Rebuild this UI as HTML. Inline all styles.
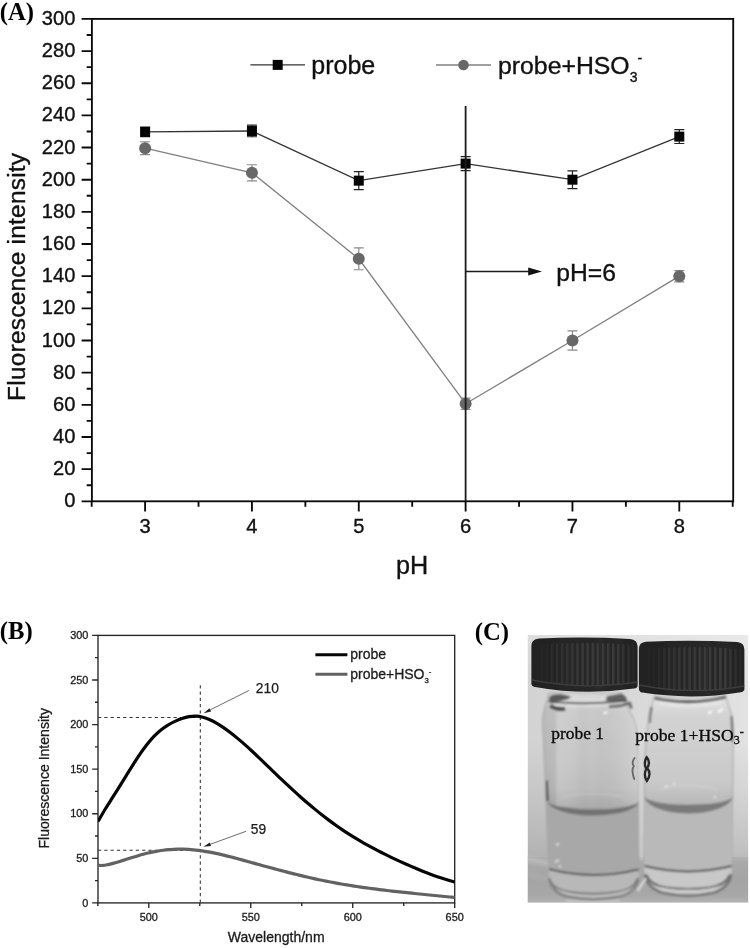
<!DOCTYPE html>
<html lang="en"><head><meta charset="utf-8"><title>Figure</title>
<style>html,body{margin:0;padding:0;background:#fff}svg{display:block}text.s{font-family:"Liberation Sans",sans-serif}text.b{font-family:"Liberation Serif",serif;font-weight:bold}text.r{font-family:"Liberation Serif",serif}</style></head><body>
<svg width="750" height="948" viewBox="0 0 750 948">
<rect width="750" height="948" fill="#fff"/>
<g id="panelA">
<text class="b" x="-0.2" y="20" font-size="24.7">(A)</text>
<rect x="91.9" y="18.9" width="641.3" height="482.4" fill="none" stroke="#0a0a0a" stroke-width="1.85"/>
<path d="M81.6 501.3H91.9M86.7 485.22H91.9M81.6 469.14H91.9M86.7 453.06H91.9M81.6 436.98H91.9M86.7 420.9H91.9M81.6 404.82H91.9M86.7 388.74H91.9M81.6 372.66H91.9M86.7 356.58H91.9M81.6 340.5H91.9M86.7 324.42H91.9M81.6 308.34H91.9M86.7 292.26H91.9M81.6 276.18H91.9M86.7 260.1H91.9M81.6 244.02H91.9M86.7 227.94H91.9M81.6 211.86H91.9M86.7 195.78H91.9M81.6 179.7H91.9M86.7 163.62H91.9M81.6 147.54H91.9M86.7 131.46H91.9M81.6 115.38H91.9M86.7 99.3H91.9M81.6 83.22H91.9M86.7 67.14H91.9M81.6 51.06H91.9M86.7 34.98H91.9M81.6 18.9H91.9M91.68 501.3V506.7M145.1 501.3V511.6M198.52 501.3V506.7M251.94 501.3V511.6M305.36 501.3V506.7M358.78 501.3V511.6M412.2 501.3V506.7M465.62 501.3V511.6M519.04 501.3V506.7M572.46 501.3V511.6M625.88 501.3V506.7M679.3 501.3V511.6M732.72 501.3V506.7" stroke="#0a0a0a" stroke-width="1.85" fill="none"/>
<g fill="#111" stroke="#111" stroke-width="0.35">
<text class="s" x="75.4" y="507.3" font-size="20.1" text-anchor="end">0</text>
<text class="s" x="75.4" y="475.14" font-size="20.1" text-anchor="end">20</text>
<text class="s" x="75.4" y="442.98" font-size="20.1" text-anchor="end">40</text>
<text class="s" x="75.4" y="410.82" font-size="20.1" text-anchor="end">60</text>
<text class="s" x="75.4" y="378.66" font-size="20.1" text-anchor="end">80</text>
<text class="s" x="75.4" y="346.5" font-size="20.1" text-anchor="end">100</text>
<text class="s" x="75.4" y="314.34" font-size="20.1" text-anchor="end">120</text>
<text class="s" x="75.4" y="282.18" font-size="20.1" text-anchor="end">140</text>
<text class="s" x="75.4" y="250.02" font-size="20.1" text-anchor="end">160</text>
<text class="s" x="75.4" y="217.86" font-size="20.1" text-anchor="end">180</text>
<text class="s" x="75.4" y="185.7" font-size="20.1" text-anchor="end">200</text>
<text class="s" x="75.4" y="153.54" font-size="20.1" text-anchor="end">220</text>
<text class="s" x="75.4" y="121.38" font-size="20.1" text-anchor="end">240</text>
<text class="s" x="75.4" y="89.22" font-size="20.1" text-anchor="end">260</text>
<text class="s" x="75.4" y="57.06" font-size="20.1" text-anchor="end">280</text>
<text class="s" x="75.4" y="24.9" font-size="20.1" text-anchor="end">300</text>
<text class="s" x="145.1" y="532.8" font-size="20.1" text-anchor="middle">3</text>
<text class="s" x="251.94" y="532.8" font-size="20.1" text-anchor="middle">4</text>
<text class="s" x="358.78" y="532.8" font-size="20.1" text-anchor="middle">5</text>
<text class="s" x="465.62" y="532.8" font-size="20.1" text-anchor="middle">6</text>
<text class="s" x="572.46" y="532.8" font-size="20.1" text-anchor="middle">7</text>
<text class="s" x="679.3" y="532.8" font-size="20.1" text-anchor="middle">8</text>
<text class="s" x="412" y="574" font-size="25.2" text-anchor="middle">pH</text>
<text class="s" transform="translate(25.3 276.8) rotate(-90)" font-size="24.4" text-anchor="middle" letter-spacing="0.25">Fluorescence intensity</text>
</g>
<polyline points="145.1,148.18 251.94,172.79 358.78,258.81 465.62,403.69 572.46,340.5 679.3,276.18" fill="none" stroke="#808080" stroke-width="1.3"/>
<path d="M145.1 141.75V154.62M140.1 141.75h10M140.1 154.62h10M251.94 164.75V180.83M246.94 164.75h10M246.94 180.83h10M358.78 247.88V269.75M353.78 247.88h10M353.78 269.75h10M465.62 398.07V409.32M460.62 398.07h10M460.62 409.32h10M572.46 330.85V350.15M567.46 330.85h10M567.46 350.15h10M679.3 270.55V281.81M674.3 270.55h10M674.3 281.81h10" stroke="#8a8a8a" stroke-width="1.2" fill="none"/>
<circle cx="145.1" cy="148.18" r="6" fill="#686868"/>
<circle cx="251.94" cy="172.79" r="6" fill="#686868"/>
<circle cx="358.78" cy="258.81" r="6" fill="#686868"/>
<circle cx="465.62" cy="403.69" r="6" fill="#686868"/>
<circle cx="572.46" cy="340.5" r="6" fill="#686868"/>
<circle cx="679.3" cy="276.18" r="6" fill="#686868"/>
<polyline points="145.1,131.94 251.94,130.98 358.78,180.66 465.62,163.62 572.46,179.7 679.3,136.61" fill="none" stroke="#333" stroke-width="1.3"/>
<path d="M145.1 127.12V136.77M140.1 127.12h10M140.1 136.77h10M251.94 125.19V136.77M246.94 125.19h10M246.94 136.77h10M358.78 171.66V189.67M353.78 171.66h10M353.78 189.67h10M465.62 156.54V170.7M460.62 156.54h10M460.62 170.7h10M572.46 170.86V188.54M567.46 170.86h10M567.46 188.54h10M679.3 129.69V143.52M674.3 129.69h10M674.3 143.52h10" stroke="#222" stroke-width="1.2" fill="none"/>
<rect x="140.1" y="126.94" width="10" height="10" fill="#050505"/>
<rect x="246.94" y="125.98" width="10" height="10" fill="#050505"/>
<rect x="353.78" y="175.66" width="10" height="10" fill="#050505"/>
<rect x="460.62" y="158.62" width="10" height="10" fill="#050505"/>
<rect x="567.46" y="174.7" width="10" height="10" fill="#050505"/>
<rect x="674.3" y="131.61" width="10" height="10" fill="#050505"/>
<path d="M465.62 106V501.3" stroke="#1c1c1c" stroke-width="1.8" fill="none"/>
<path d="M465.62 271.5H531" stroke="#1a1a1a" stroke-width="1.3" fill="none"/>
<path d="M542 271.5L528.2 267.6L528.2 275.4Z" fill="#111"/>
<text class="s" x="556.3" y="281.2" font-size="24.7" fill="#111" stroke="#111" stroke-width="0.35">pH=6</text>
<path d="M250.4 64.8H305" stroke="#333" stroke-width="1.3"/>
<rect x="272.7" y="59.9" width="10" height="10" fill="#050505"/>
<text class="s" x="311.3" y="73.6" font-size="25" fill="#111" stroke="#111" stroke-width="0.35">probe</text>
<path d="M436 65H491" stroke="#808080" stroke-width="1.3"/>
<circle cx="463.5" cy="65" r="5.3" fill="#686868"/>
<text class="s" x="498" y="73.6" font-size="24.8" fill="#111" stroke="#111" stroke-width="0.35">probe+HSO<tspan font-size="14" dy="8.4">3</tspan><tspan font-size="14" dy="-19">-</tspan></text>
</g>
<g id="panelB">
<text class="b" x="-0.2" y="639.4" font-size="24.7">(B)</text>
<rect x="98" y="635.4" width="356.7" height="267.5" fill="none" stroke="#262626" stroke-width="1.35"/>
<path d="M92.2 902.9H98M95 880.61H98M92.2 858.32H98M95 836.02H98M92.2 813.73H98M95 791.44H98M92.2 769.15H98M95 746.86H98M92.2 724.57H98M95 702.27H98M92.2 679.98H98M95 657.69H98M92.2 635.4H98M97.82 902.9V905.9M148.8 902.9V908.1M199.78 902.9V905.9M250.76 902.9V908.1M301.75 902.9V905.9M352.73 902.9V908.1M403.71 902.9V905.9M454.69 902.9V908.1" stroke="#262626" stroke-width="1.35" fill="none"/>
<g fill="#1c1c1c" stroke="#1c1c1c" stroke-width="0.3">
<text class="s" x="88.3" y="906.6" font-size="10.9" text-anchor="end">0</text>
<text class="s" x="88.3" y="862.02" font-size="10.9" text-anchor="end">50</text>
<text class="s" x="88.3" y="817.43" font-size="10.9" text-anchor="end">100</text>
<text class="s" x="88.3" y="772.85" font-size="10.9" text-anchor="end">150</text>
<text class="s" x="88.3" y="728.27" font-size="10.9" text-anchor="end">200</text>
<text class="s" x="88.3" y="683.68" font-size="10.9" text-anchor="end">250</text>
<text class="s" x="88.3" y="639.1" font-size="10.9" text-anchor="end">300</text>
<text class="s" x="148.8" y="921.4" font-size="10.9" text-anchor="middle">500</text>
<text class="s" x="250.76" y="921.4" font-size="10.9" text-anchor="middle">550</text>
<text class="s" x="352.73" y="921.4" font-size="10.9" text-anchor="middle">600</text>
<text class="s" x="454.69" y="921.4" font-size="10.9" text-anchor="middle">650</text>
<text class="s" x="276.2" y="941.9" font-size="14" text-anchor="middle">Wavelength/nm</text>
<text class="s" transform="translate(48.9 778.3) rotate(-90)" font-size="14.05" text-anchor="middle">Fluorescence Intensity</text>
</g>
<path d="M98 717.5H196M98 850.3H200M200.3 685.2V902.9" stroke="#333" stroke-width="1.05" stroke-dasharray="3.2 3.1" fill="none"/>
<clipPath id="clipB"><rect x="98" y="635.4" width="357.3" height="267.5"/></clipPath>
<g clip-path="url(#clipB)" fill="none" stroke-linejoin="round">
<path d="M98 865.28C98.84 865.31 101.35 865.57 103.02 865.46C104.7 865.35 106.37 864.94 108.05 864.59C109.72 864.25 111.4 863.81 113.07 863.37C114.75 862.92 116.42 862.43 118.1 861.93C119.77 861.42 121.45 860.89 123.12 860.36C124.79 859.83 126.47 859.28 128.14 858.75C129.82 858.22 131.49 857.69 133.17 857.17C134.84 856.66 136.52 856.16 138.19 855.69C139.87 855.21 141.54 854.74 143.22 854.3C144.89 853.86 146.56 853.44 148.24 853.04C149.91 852.65 151.59 852.27 153.26 851.93C154.94 851.59 156.61 851.27 158.29 850.98C159.96 850.7 161.64 850.44 163.31 850.22C164.99 850 166.66 849.82 168.34 849.67C170.01 849.52 171.68 849.4 173.36 849.32C175.03 849.24 176.71 849.19 178.38 849.17C180.06 849.15 181.73 849.16 183.41 849.21C185.08 849.25 186.76 849.32 188.43 849.42C190.11 849.52 191.78 849.65 193.45 849.81C195.13 849.96 196.8 850.15 198.48 850.36C200.15 850.56 201.83 850.8 203.5 851.05C205.18 851.31 206.85 851.59 208.53 851.89C210.2 852.19 211.88 852.51 213.55 852.85C215.23 853.19 216.9 853.55 218.57 853.92C220.25 854.3 221.92 854.69 223.6 855.09C225.27 855.49 226.95 855.9 228.62 856.33C230.3 856.75 231.97 857.19 233.65 857.63C235.32 858.07 237 858.52 238.67 858.98C240.35 859.43 242.02 859.9 243.69 860.36C245.37 860.82 247.04 861.29 248.72 861.76C250.39 862.22 252.07 862.69 253.74 863.15C255.42 863.62 257.09 864.08 258.77 864.55C260.44 865.01 262.12 865.47 263.79 865.93C265.46 866.39 267.14 866.85 268.81 867.3C270.49 867.76 272.16 868.21 273.84 868.66C275.51 869.11 277.19 869.56 278.86 870C280.54 870.44 282.21 870.88 283.89 871.32C285.56 871.75 287.24 872.19 288.91 872.61C290.58 873.04 292.26 873.46 293.93 873.88C295.61 874.3 297.28 874.71 298.96 875.12C300.63 875.52 302.31 875.93 303.98 876.32C305.66 876.72 307.33 877.11 309.01 877.49C310.68 877.87 312.35 878.25 314.03 878.62C315.7 878.99 317.38 879.35 319.05 879.71C320.73 880.06 322.4 880.41 324.08 880.75C325.75 881.09 327.43 881.42 329.1 881.74C330.78 882.06 332.45 882.38 334.13 882.69C335.8 883 337.47 883.3 339.15 883.59C340.82 883.89 342.5 884.18 344.17 884.46C345.85 884.74 347.52 885.01 349.2 885.28C350.87 885.55 352.55 885.81 354.22 886.07C355.9 886.33 357.57 886.58 359.25 886.83C360.92 887.07 362.59 887.31 364.27 887.55C365.94 887.78 367.62 888.01 369.29 888.24C370.97 888.46 372.64 888.69 374.32 888.9C375.99 889.12 377.67 889.33 379.34 889.54C381.02 889.75 382.69 889.95 384.36 890.15C386.04 890.36 387.71 890.55 389.39 890.75C391.06 890.94 392.74 891.13 394.41 891.32C396.09 891.51 397.76 891.69 399.44 891.88C401.11 892.06 402.79 892.24 404.46 892.42C406.14 892.6 407.81 892.77 409.48 892.95C411.16 893.12 412.83 893.3 414.51 893.47C416.18 893.64 417.86 893.81 419.53 893.98C421.21 894.15 422.88 894.32 424.56 894.48C426.23 894.65 427.91 894.82 429.58 894.98C431.25 895.15 432.93 895.32 434.6 895.48C436.28 895.65 437.95 895.82 439.63 895.98C441.3 896.15 442.98 896.32 444.65 896.49C446.33 896.65 448 896.82 449.68 896.99C451.35 897.16 453.86 897.42 454.7 897.51" stroke="#626262" stroke-width="3.2"/>
<path d="M98 821.47C99.17 819.47 102.66 813.33 104.99 809.49C107.33 805.66 109.66 802.13 111.99 798.46C114.32 794.79 116.65 791.2 118.98 787.47C121.31 783.74 123.65 779.86 125.98 776.09C128.31 772.32 130.64 768.47 132.97 764.83C135.3 761.18 137.63 757.57 139.96 754.2C142.3 750.83 144.63 747.56 146.96 744.6C149.29 741.63 151.62 738.85 153.95 736.41C156.28 733.97 158.62 731.84 160.95 729.96C163.28 728.07 165.61 726.52 167.94 725.09C170.27 723.67 172.6 722.51 174.94 721.42C177.27 720.33 179.6 719.36 181.93 718.56C184.26 717.76 186.59 717.02 188.92 716.61C191.25 716.2 193.59 715.99 195.92 716.09C198.25 716.19 200.58 716.61 202.91 717.22C205.24 717.83 207.57 718.72 209.91 719.76C212.24 720.79 214.57 722.06 216.9 723.42C219.23 724.78 221.56 726.32 223.89 727.92C226.23 729.53 228.56 731.25 230.89 733.04C233.22 734.82 235.55 736.71 237.88 738.64C240.21 740.58 242.55 742.6 244.88 744.66C247.21 746.72 249.54 748.84 251.87 750.99C254.2 753.14 256.53 755.35 258.86 757.56C261.2 759.77 263.53 762.03 265.86 764.28C268.19 766.52 270.52 768.8 272.85 771.05C275.18 773.3 277.52 775.56 279.85 777.79C282.18 780.02 284.51 782.24 286.84 784.43C289.17 786.61 291.5 788.77 293.84 790.89C296.17 793.02 298.5 795.11 300.83 797.18C303.16 799.24 305.49 801.27 307.82 803.26C310.15 805.25 312.49 807.21 314.82 809.12C317.15 811.04 319.48 812.91 321.81 814.75C324.14 816.58 326.47 818.38 328.81 820.13C331.14 821.88 333.47 823.58 335.8 825.24C338.13 826.9 340.46 828.51 342.79 830.07C345.13 831.64 347.46 833.16 349.79 834.64C352.12 836.12 354.45 837.56 356.78 838.96C359.11 840.36 361.45 841.72 363.78 843.05C366.11 844.38 368.44 845.67 370.77 846.94C373.1 848.2 375.43 849.43 377.76 850.64C380.1 851.85 382.43 853.02 384.76 854.18C387.09 855.33 389.42 856.46 391.75 857.57C394.08 858.68 396.42 859.76 398.75 860.84C401.08 861.91 403.41 862.96 405.74 864C408.07 865.04 410.4 866.06 412.74 867.06C415.07 868.06 417.4 869.04 419.73 870C422.06 870.95 424.39 871.88 426.72 872.78C429.05 873.68 431.39 874.56 433.72 875.39C436.05 876.23 438.38 877.04 440.71 877.81C443.04 878.57 445.37 879.31 447.71 879.99C450.04 880.68 453.53 881.61 454.7 881.93" stroke="#050505" stroke-width="3.2"/>
</g>
<path d="M248.9 690.5L210.31 709.84" stroke="#5a5a5a" stroke-width="0.9" fill="none"/>
<path d="M203.6 713.2L209.45 708.14L211.16 711.54Z" fill="#222"/>
<path d="M246 831.3L210.45 844.24" stroke="#5a5a5a" stroke-width="0.9" fill="none"/>
<path d="M203.4 846.8L209.8 842.45L211.1 846.02Z" fill="#222"/>
<text class="s" x="255.8" y="693.4" font-size="13.8" fill="#1c1c1c" stroke="#1c1c1c" stroke-width="0.25">210</text>
<text class="s" x="250.8" y="834.2" font-size="13.8" fill="#1c1c1c" stroke="#1c1c1c" stroke-width="0.25">59</text>
<path d="M315.4 654.7H347.4" stroke="#050505" stroke-width="3"/>
<path d="M315.4 674.2H347.4" stroke="#626262" stroke-width="3"/>
<text class="s" x="350.2" y="659" font-size="14" fill="#1c1c1c" stroke="#1c1c1c" stroke-width="0.3">probe</text>
<text class="s" x="350.2" y="678.6" font-size="14" fill="#1c1c1c" stroke="#1c1c1c" stroke-width="0.3">probe+HSO<tspan font-size="7.8" dy="4.8">3</tspan><tspan font-size="7.8" dy="-9.5">-</tspan></text>
</g>
<g id="panelC">
<text class="b" x="474.8" y="639.5" font-size="24.7">(C)</text>
<defs>
<clipPath id="pc"><rect x="527.8" y="635.1" width="220.3" height="267.3"/></clipPath>
<filter id="b05" x="-20%" y="-20%" width="140%" height="140%"><feGaussianBlur stdDeviation="0.5"/></filter>
<filter id="b1" x="-20%" y="-20%" width="140%" height="140%"><feGaussianBlur stdDeviation="0.9"/></filter>
<filter id="b2" x="-30%" y="-30%" width="160%" height="160%"><feGaussianBlur stdDeviation="2"/></filter>
<filter id="b4" x="-50%" y="-50%" width="200%" height="200%"><feGaussianBlur stdDeviation="4"/></filter>
<linearGradient id="gWall" x1="0" y1="0" x2="1" y2="0">
 <stop offset="0" stop-color="#d3d3d3"/><stop offset="0.5" stop-color="#d9d9d9"/><stop offset="1" stop-color="#e2e2e2"/>
</linearGradient>
<linearGradient id="gWallV" gradientUnits="userSpaceOnUse" x1="0" y1="635" x2="0" y2="858">
 <stop offset="0" stop-color="#fff" stop-opacity="0.25"/><stop offset="0.2" stop-color="#fff" stop-opacity="0"/><stop offset="0.47" stop-color="#000" stop-opacity="0"/><stop offset="0.74" stop-color="#000" stop-opacity="0.07"/><stop offset="1" stop-color="#000" stop-opacity="0.16"/>
</linearGradient>
<linearGradient id="gTable" gradientUnits="userSpaceOnUse" x1="0" y1="857" x2="0" y2="903">
 <stop offset="0" stop-color="#aaaaaa"/><stop offset="0.5" stop-color="#a4a4a4"/><stop offset="0.85" stop-color="#a8a8a8"/><stop offset="1" stop-color="#b4b4b4"/>
</linearGradient>
<linearGradient id="gAir1" gradientUnits="userSpaceOnUse" x1="0" y1="694" x2="0" y2="808">
 <stop offset="0" stop-color="#dadada"/><stop offset="0.16" stop-color="#c9c9c9"/><stop offset="0.58" stop-color="#c4c4c4"/><stop offset="0.82" stop-color="#bdbdbd"/><stop offset="1" stop-color="#aaaaaa"/>
</linearGradient>
<linearGradient id="gAir2" gradientUnits="userSpaceOnUse" x1="0" y1="698" x2="0" y2="804">
 <stop offset="0" stop-color="#e2e2e2"/><stop offset="0.16" stop-color="#d3d3d3"/><stop offset="0.58" stop-color="#cdcdcd"/><stop offset="0.8" stop-color="#c9c9c9"/><stop offset="1" stop-color="#b8b8b8"/>
</linearGradient>
<linearGradient id="gSide1" gradientUnits="userSpaceOnUse" x1="541" y1="0" x2="640" y2="0">
 <stop offset="0" stop-color="#000" stop-opacity="0.02"/><stop offset="0.04" stop-color="#000" stop-opacity="0.07"/><stop offset="0.12" stop-color="#000" stop-opacity="0.05"/><stop offset="0.17" stop-color="#fff" stop-opacity="0.12"/><stop offset="0.35" stop-color="#fff" stop-opacity="0.05"/><stop offset="0.5" stop-color="#000" stop-opacity="0"/><stop offset="0.8" stop-color="#fff" stop-opacity="0.05"/><stop offset="1" stop-color="#fff" stop-opacity="0.22"/>
</linearGradient>
<linearGradient id="gCap" x1="0" y1="0" x2="1" y2="0">
 <stop offset="0" stop-color="#212121"/><stop offset="0.3" stop-color="#252525"/><stop offset="0.65" stop-color="#292929"/><stop offset="1" stop-color="#222222"/>
</linearGradient>
<linearGradient id="gRidge" x1="0" y1="0" x2="1" y2="0">
 <stop offset="0" stop-color="#3a3a3a" stop-opacity="0"/><stop offset="0.2" stop-color="#3a3a3a" stop-opacity="0.5"/><stop offset="0.5" stop-color="#3c3c3c" stop-opacity="0.95"/><stop offset="0.8" stop-color="#3e3e3e" stop-opacity="0.9"/><stop offset="1" stop-color="#3a3a3a" stop-opacity="0.15"/>
</linearGradient>
<pattern id="pRidge" x="0" y="0" width="5.1" height="10" patternUnits="userSpaceOnUse"><rect x="0" y="0" width="2.3" height="10" fill="#fff"/></pattern>
<mask id="mRidge1"><path d="M538 645 Q584 641 634 645 L634 683 Q584 689 538 682 Z" fill="url(#pRidge)"/></mask>
<mask id="mRidge2"><path d="M646 649 Q692 645 741 649 L741 688 Q692 694 646 687 Z" fill="url(#pRidge)"/></mask>
</defs>
<g clip-path="url(#pc)">
 <!-- wall + table -->
 <rect x="527" y="634" width="223" height="270" fill="url(#gWall)"/>
 <rect x="527" y="634" width="223" height="224" fill="url(#gWallV)"/>
 <rect x="527" y="857" width="223" height="47" fill="url(#gTable)"/>
 <g filter="url(#b2)">
  <path d="M520 857.5 L560 865.5" stroke="#c4c4c4" stroke-width="3.5" fill="none"/>
  <path d="M733 857.5 L752 857.5" stroke="#b8b8b8" stroke-width="3" fill="none"/>
  <path d="M528 875 L548 879" stroke="#aeaeae" stroke-width="3" fill="none"/>
 </g>

 <!-- ===== vial 1 glass ===== -->
 <g filter="url(#b1)">
  <path d="M549 693 C547.5 702 543 708 542.6 722 L548.8 874 Q549.5 891 568 896.6 Q593 902 619 896.6 Q638 891 638.8 874 L637.6 740 C637.4 716 624 706 621.5 693 Z" fill="url(#gAir1)" stroke="#a9a9a9" stroke-width="1.1"/>
  <path d="M549 693 C547.5 702 543 708 542.6 722 L547.4 806 L639 806 L637.6 740 C637.4 716 624 706 621.5 693 Z" fill="url(#gSide1)"/>
  <!-- liquid -->
  <path d="M547.6 801.5 A45.8 14.8 0 0 0 639.1 800 L638.8 871 Q593 882 548.8 870 Z" fill="#a8a8a8"/>
  <!-- meniscus crescent -->
  <path d="M547.6 801.5 A45.8 14.8 0 0 0 639.1 800 A45.8 8.6 0 0 1 547.6 801.5 Z" fill="#727272"/>
  <path d="M562 797 Q590 791 624 796.5" fill="none" stroke="#cfcfcf" stroke-width="2" opacity="0.4"/>
  <!-- base -->
  <path d="M548.8 870 Q593 882 638.8 871 L638.8 874 Q638 891 619 896.6 Q593 902 568 896.6 Q549.5 891 548.8 874 Z" fill="#b8b8b8"/>
  <path d="M549.2 869.2 Q593 880.6 638.6 869.4" fill="none" stroke="#505050" stroke-width="1.9"/>
  <path d="M549.6 879 Q553 889.5 570 892 Q593 895.4 617 892 Q634 889.5 637 879" fill="none" stroke="#7a7a7a" stroke-width="2"/>
  <path d="M552 888.5 Q572 896 593 897 Q614 896 634 888.5" fill="none" stroke="#c2c2c2" stroke-width="1.8"/>
  <path d="M549.4 878 Q551 892 568 896.8 Q593 901.6 619 896.8 Q637 892 638.2 878" fill="none" stroke="#808080" stroke-width="2.4"/>
  <path d="M566 900.6 Q593 904 620 900.6" fill="none" stroke="#c8c8c8" stroke-width="2"/>
  <!-- left dark edge -->
  <path d="M546.9 780.5 L547.6 801" stroke="#383838" stroke-width="1.9" fill="none"/>
  <!-- small white flecks -->
  <path d="M556 845 l3 -1.2 M555 862 l4 -2 M559 866 l2 1" stroke="#e4e4e4" stroke-width="1.8" fill="none"/>
 </g>
 <!-- neck ring vial 1 -->
 <g filter="url(#b1)" fill="none">
  <path d="M549.2 697.5 Q552 694.2 561 694.2 L572 697 Q560 702.4 549.6 702 Z" fill="#585858"/>
  <path d="M606 696.5 L621 693.8 Q626.4 696 627 700.8 Q616 703 605 700.8 Z" fill="#606060"/>
  <path d="M571 696.5 Q590 700 607 696.5 L606 700 Q590 702.5 571 700.5 Z" fill="#dcdcdc"/>
  <path d="M548.5 701.8 Q586 705.4 627 700.8" stroke="#4a4a4a" stroke-width="1.6"/>
  <path d="M549 704.6 Q586 708 627 703.5" stroke="#e0e0e0" stroke-width="1.6"/>
  <path d="M550.2 705.2 Q556 710 565 708.6" stroke="#4c4c4c" stroke-width="3.8"/>
  <path d="M609 706.4 Q621 706.4 629.5 703 L631.4 708.5" stroke="#666" stroke-width="2.8"/>
  <path d="M603.5 713.5 l4 -1.6" stroke="#f6f6f6" stroke-width="2.2"/>
 </g>

 <!-- ===== vial 2 glass ===== -->
 <g filter="url(#b1)">
  <path d="M654 697 C652.5 706 649 710 648.2 722 Q646 740 645 756 L644.2 870 Q645 886 662 892.6 Q688 898.6 714 892.6 Q731 886 731.8 870 L733.4 730 C733.4 714 728 707 726 697 Z" fill="url(#gAir2)" stroke="#a9a9a9" stroke-width="1.1"/>
  <path d="M644.5 795.4 A44 17.6 0 0 0 732.5 796.6 L731.8 867 Q688 877.6 644.3 867 Z" fill="#b9b9b9"/>
  <path d="M644.5 795.4 A44 17.6 0 0 0 732.5 796.6 A44 8.8 0 0 1 644.5 795.4 Z" fill="#7a7a7a"/>
  <path d="M660 789 Q688 782 718 789.5" fill="none" stroke="#dadada" stroke-width="2" opacity="0.4"/>
  <path d="M644.3 867 Q688 877.6 731.8 867 L731.8 870 Q731 886 714 892.6 Q688 898.6 662 892.6 Q645 886 644.2 870 Z" fill="#c8c8c8"/>
  <path d="M644.6 866 Q688 876.8 731.6 866" fill="none" stroke="#505050" stroke-width="2"/>
  <path d="M646.4 875 Q650 885 666 887.6 Q688 890.6 710 887.6 Q726 885 729.6 875" fill="none" stroke="#6a6a6a" stroke-width="2.3"/>
  <path d="M650 885.5 Q688 896 726 885.5" fill="none" stroke="#d0d0d0" stroke-width="1.8"/>
  <path d="M645 874 Q646.5 887 662 892.6 Q688 898.4 714 892.6 Q729.5 887 731 874" fill="none" stroke="#707070" stroke-width="2.4"/>
  <path d="M731.5 716 L732.1 742" stroke="#484848" stroke-width="1.6" fill="none"/>
  <path d="M665 787 l3 -1 M673 784 l2 -.6 M714 797 l2 .6" stroke="#ececec" stroke-width="1.8" fill="none"/>
 </g>
 <g filter="url(#b1)" fill="none">
  <path d="M654.5 698 Q690 706 726 697" stroke="#606060" stroke-width="2.8"/>
  <path d="M651.6 707 Q650.2 714 649.8 723" stroke="#707070" stroke-width="1.8"/>
  <path d="M660 703.6 Q690 709 721 703" stroke="#e8e8e8" stroke-width="2"/>
  <path d="M708 713.5 l4 -2.4 M718 712 l5 -3.2" stroke="#fafafa" stroke-width="2.2"/>
 </g>
 <!-- gap between vials: a touch brighter -->
 <g filter="url(#b1)"><path d="M640.6 720 L641.4 860" stroke="#dadada" stroke-width="3" fill="none" opacity="0.55"/>
 <path d="M637.5 891 L646 878" stroke="#d8d8d8" stroke-width="2.4" fill="none"/></g>

 <!-- marks between vials -->
 <g filter="url(#b05)" fill="none" stroke-linecap="round">
  <path d="M634.6 758 q-3.4 4 -0.8 8 q-2.8 4 0.4 13" stroke="#6a6a6a" stroke-width="1.9"/>
  <path d="M646.6 757 q4.4 5 0.6 11 q4.8 6 -0.4 13 q-3.6 -6 -0.6 -12 q-3 -6 0.4 -12" stroke="#262626" stroke-width="2.3"/>
 </g>

 <!-- ===== caps ===== -->
 <g filter="url(#b05)">
  <path d="M531.4 683 L531.4 646 Q531.4 639 539 638.5 Q584 636.4 630 638.9 Q637.6 639.4 637.6 646.5 L637.6 685.5 Q637.8 688 634 688.6 Q584 695.8 535 687 Q531.2 686.4 531.4 683 Z" fill="url(#gCap)"/>
  <rect x="536" y="640" width="100" height="50" fill="url(#gRidge)" mask="url(#mRidge1)"/>
  <path d="M531.8 680 Q584 690.5 637.4 682" fill="none" stroke="#3c3c3c" stroke-width="1.3"/>
  <path d="M638.9 688 L638.9 649 Q638.9 642.2 646 641.7 Q692 639.6 737 642.1 Q744.4 642.6 744.4 649.6 L744.4 689 Q744.4 691.6 741 692.2 Q692 700.4 642.4 692.6 Q638.8 692 638.9 688 Z" fill="url(#gCap)"/>
  <rect x="644" y="644" width="100" height="50" fill="url(#gRidge)" mask="url(#mRidge2)"/>
  <path d="M639.2 685 Q692 695.5 744.2 686" fill="none" stroke="#3c3c3c" stroke-width="1.3"/>
 </g>

 <!-- labels -->
 <g fill="#0c0c0c" stroke="#0c0c0c" stroke-width="0.35">
 <text class="r" x="551.3" y="739" font-size="17.45">probe 1</text>
 <text class="r" x="635.3" y="740.9" font-size="17.6">probe 1+HSO<tspan font-size="12" dy="3">3</tspan><tspan font-size="12" dy="-8">-</tspan></text>
 </g>
</g>

</g>
</svg></body></html>
